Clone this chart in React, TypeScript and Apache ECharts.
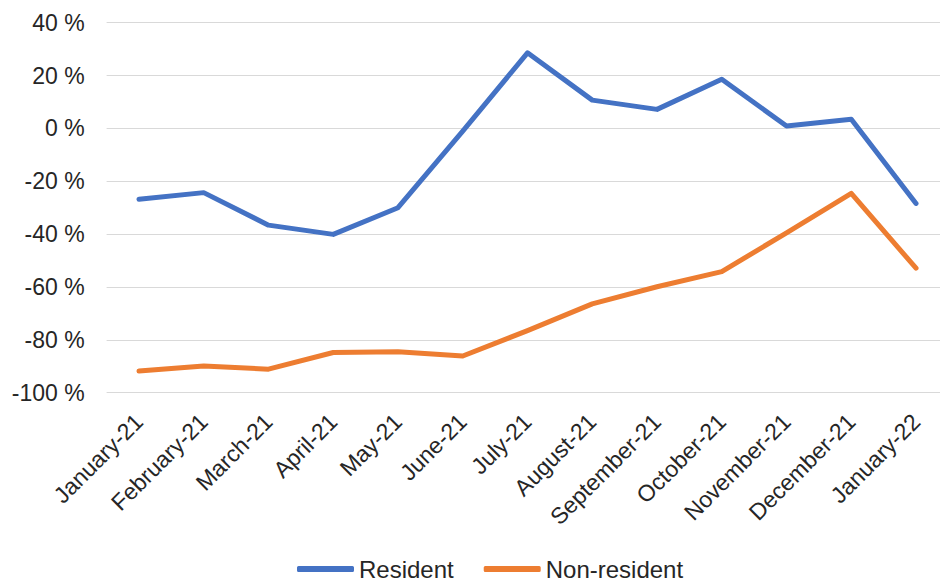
import React, { useEffect, useRef } from "react";
import * as echarts from "echarts";

const categories = [
  "January-21", "February-21", "March-21", "April-21", "May-21", "June-21",
  "July-21", "August-21", "September-21", "October-21", "November-21",
  "December-21", "January-22",
];
const resident = [-26.8, -24.3, -36.6, -40.1, -30.0, -1.0, 28.6, 10.7, 7.2, 18.6, 0.9, 3.5, -28.4];
const nonResident = [-91.8, -89.9, -91.1, -84.8, -84.5, -86.1, -76.5, -66.4, -59.9, -54.2, -39.5, -24.6, -52.9];
const seriesNames = ["Resident", "Non-resident"];
const yMin = -100;
const yMax = 40;
const yStep = 20;

const FONT = "'Liberation Sans', Arial, sans-serif";

export default function App() {
  const ref = useRef<HTMLDivElement>(null);
  useEffect(() => {
    if (!ref.current) return;
    const chart = echarts.init(ref.current, undefined, { renderer: "svg" });
    chart.setOption({
      animation: false,
      backgroundColor: "#ffffff",
      grid: { left: 106.6, top: 22.7, width: 841.8, height: 370, containLabel: false },
      legend: {
        left: 297,
        top: 557,
        padding: 0,
        itemWidth: 57,
        itemHeight: 6,
        itemGap: 30,
        icon: "roundRect",
        textStyle: { fontFamily: FONT, fontSize: 24, color: "#262626", lineHeight: 24 },
        data: seriesNames,
      },
      xAxis: {
        type: "category",
        data: categories,
        boundaryGap: true,
        axisLine: { show: false },
        axisTick: { show: false },
        axisLabel: {
          rotate: 45,
          interval: 0,
          margin: 25,
          fontFamily: FONT,
          fontSize: 23,
          color: "#262626",
        },
      },
      yAxis: {
        type: "value",
        min: yMin,
        max: yMax,
        interval: yStep,
        axisLine: { show: false },
        axisTick: { show: false },
        splitLine: { lineStyle: { color: "#d9d9d9", width: 1 } },
        axisLabel: {
          margin: 22,
          fontFamily: FONT,
          fontSize: 23,
          color: "#262626",
          formatter: (v: number) => `${v} %`,
        },
      },
      series: [
        {
          name: seriesNames[0],
          type: "line",
          data: resident,
          showSymbol: false,
          symbol: "none",
          itemStyle: { color: "#4472C4" },
          lineStyle: { color: "#4472C4", width: 5, cap: "round", join: "round" },
        },
        {
          name: seriesNames[1],
          type: "line",
          data: nonResident,
          showSymbol: false,
          symbol: "none",
          itemStyle: { color: "#ED7D31" },
          lineStyle: { color: "#ED7D31", width: 5, cap: "round", join: "round" },
        },
      ],
    });
    return () => chart.dispose();
  }, []);
  return (
    <div style={{ position: "fixed", left: 0, top: 0, width: 940, height: 582, overflow: "hidden", background: "#fff" }}>
      <div ref={ref} style={{ position: "absolute", left: 0, top: 0, width: 960, height: 582 }} />
    </div>
  );
}
